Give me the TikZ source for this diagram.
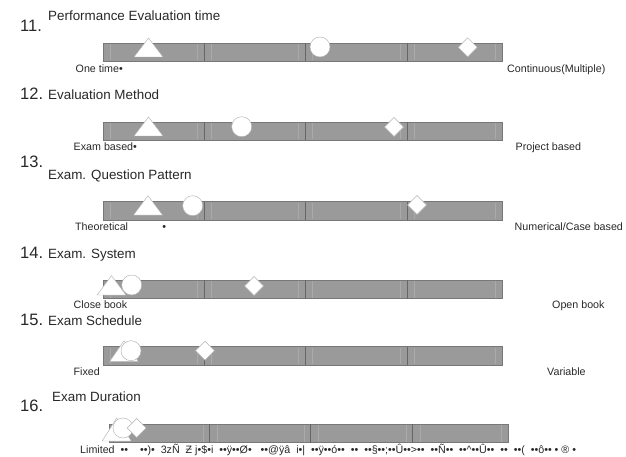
\documentclass[tikz,border=0pt]{standalone}
\usepackage{fontspec}
\setmainfont{Liberation Sans}
\usepackage{xcolor}
\usepackage{tikz}
\usetikzlibrary{positioning}

\definecolor{bargray}{RGB}{154,154,154}
\definecolor{barline}{RGB}{120,120,120}
\definecolor{shinegray}{RGB}{170,170,170}
\definecolor{inkgray}{RGB}{40,40,40}

\tikzset{
	barbox/.style={fill=bargray,draw=barline,line width=0.5pt},
	divline/.style={draw=black!60,line width=0.6pt},
	shine/.style={draw=shinegray,line width=0.6pt},
	markshape/.style={fill=white,draw=black!30,line width=0.45pt},
	numtext/.style={font=\fontsize{16.5}{18}\selectfont,inner sep=0pt,anchor=base west,text=inkgray},
	titletext/.style={font=\fontsize{13.4}{15}\selectfont,inner sep=0pt,anchor=base west,text=inkgray},
	endtext/.style={font=\fontsize{10.7}{12}\selectfont,inner sep=0pt,anchor=base west,text=inkgray}
}

% one scale bar: left end, top
\newcommand{\evalbar}[2]{%
	\draw[barbox] (#1,#2) rectangle (#1+399.4,#2+18.5);
	\draw[shine] (#1+7,#2+1) -- (#1+7,#2+17.5);
	\draw[shine] (#1+94,#2+1) -- (#1+94,#2+17.5);
	\draw[shine] (#1+108,#2+1) -- (#1+108,#2+17.5);
	\draw[shine] (#1+195,#2+1) -- (#1+195,#2+17.5);
	\draw[shine] (#1+209,#2+1) -- (#1+209,#2+17.5);
	\draw[shine] (#1+297,#2+1) -- (#1+297,#2+17.5);
	\draw[shine] (#1+311,#2+1) -- (#1+311,#2+17.5);
	\draw[shine] (#1+392,#2+1) -- (#1+392,#2+17.5);
	\draw[divline] (#1+100.7,#2) -- (#1+100.7,#2+18.5);
	\draw[divline] (#1+201.7,#2) -- (#1+201.7,#2+18.5);
	\draw[divline] (#1+303.7,#2) -- (#1+303.7,#2+18.5);
}
% markers: triangle (x, apex, base), circle (x,y), diamond (x,y)
\newcommand{\marktri}[3]{\draw[markshape] (#1-14.5,#3) -- (#1,#2) -- (#1+14.5,#3) -- cycle;}
\newcommand{\markcirc}[2]{\draw[markshape] (#1,#2) circle (10);}
\newcommand{\markdia}[2]{\draw[markshape] (#1,#2-9.5) -- (#1+9.5,#2) -- (#1,#2+9.5) -- (#1-9.5,#2) -- cycle;}

\begin{document}
\begin{tikzpicture}[x=1pt,y=-1pt]
	\useasboundingbox (0,0) rectangle (626,457);
	% 11
	\node[numtext] (n11) at (20,32) {11.};
	\node[titletext] (t11) at (48,20.7) {Performance Evaluation time};
	\evalbar{103.3}{43}
	\marktri{148.5}{38}{57}
	\markcirc{320}{47}
	\markdia{467.7}{47.3}
	\node[endtext] (l11) at (75.5,73) {One time•};
	\node[endtext] (r11) at (507,73) {Continuous(Multiple)};
	% 12
	\node[numtext] (n12) at (20,100) {12.};
	\node[titletext] (t12) at (48,100) {Evaluation Method};
	\evalbar{103.3}{122}
	\marktri{148.5}{117}{136}
	\markcirc{241.7}{126.7}
	\markdia{394}{127}
	\node[endtext] (l12) at (73.5,150.7) {Exam based•};
	\node[endtext] (r12) at (515.5,150.7) {Project based};
	% 13
	\node[numtext] (n13) at (20,167.5) {13.};
	\node[titletext] (t13) at (48,179.3) {Exam. Question Pattern};
	\evalbar{103.3}{201.5}
	\marktri{148}{195.7}{215}
	\markcirc{192.7}{205.7}
	\markdia{417}{205}
	\node[endtext] (l13) at (75,230.2) {Theoretical};
	\node[endtext] (d13) at (162.2,230.2) {•};
	\node[endtext] (r13) at (514.5,230.2) {Numerical/Case based};
	% 14
	\node[numtext] (n14) at (20,258.3) {14.};
	\node[titletext] (t14) at (48,258.3) {Exam. System};
	\evalbar{103.3}{280}
	\marktri{111.5}{275.7}{295}
	\markcirc{131.7}{285}
	\markdia{254}{286}
	\node[endtext] (l14) at (73.5,308.8) {Close book};
	\node[endtext] (r14) at (552,308.8) {Open book};
	% 15
	\node[numtext] (n15) at (20,325) {15.};
	\node[titletext] (t15) at (48,325) {Exam Schedule};
	\evalbar{103.3}{346.5}
	\marktri{124}{340.7}{361.7}
	\markcirc{131}{350.7}
	\markdia{205}{350.7}
	\node[endtext] (l15) at (73.5,375.5) {Fixed};
	\node[endtext] (r15) at (547,375.5) {Variable};
	% 16
	\node[numtext] (n16) at (20,411) {16.};
	\node[titletext] (t16) at (52,401.5) {Exam Duration};
	\evalbar{109}{424}
	\marktri{116.7}{418}{441}
	\markcirc{123}{428}
	\markdia{136.7}{428}
	\node[endtext] (l16) at (80,453.3) {Limited~~••~~~~••)•~~3zÑ~~Ƶ~j•\$•i~~••ÿ••Ø•~~~••@ÿâ~~i•|~~••ÿ••ó••~~••~~••§••;••Û••>••~~••Ñ••~~••\^{}••Û••~~••~~••(~~••ô••~•~®~•};
\end{tikzpicture}
\end{document}
